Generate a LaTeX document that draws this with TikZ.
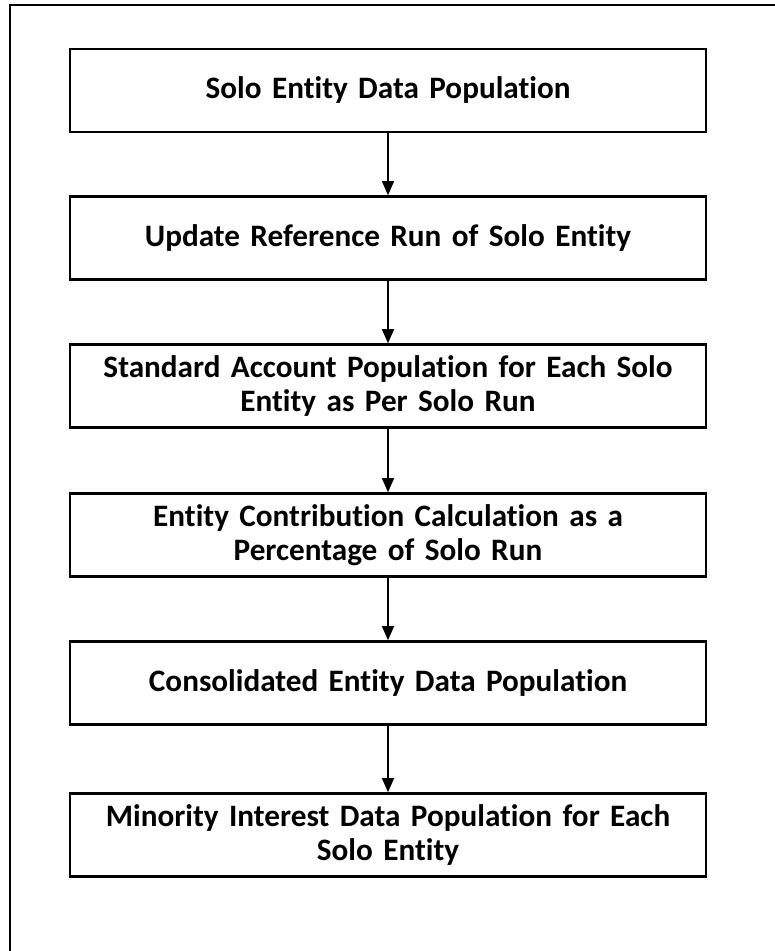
\documentclass[tikz,border=0pt]{standalone}
\usepackage{fontspec}
\setmainfont{Carlito}[Ligatures=NoCommon, WordSpace=0.8]
\usetikzlibrary{arrows.meta}
\begin{document}
\begin{tikzpicture}[x=1pt,y=1pt,
  stepbox/.style={draw=black, line width=2.6pt, minimum width=636pt, minimum height=83pt,
    align=center, font=\fontsize{31.2}{34}\selectfont\bfseries, inner sep=0pt, text width=634pt},
  flow/.style={draw=black, line width=1.3pt, -{Triangle[length=14pt,width=12pt]}}]
\useasboundingbox (0,0) rectangle (775,-951);
\draw[line width=2.8pt] (10,-955) -- (10,-5) -- (780,-5);
\node[stepbox] (b1) at (388,-90.5) {Solo Entity Data Population};
\node[stepbox] (b2) at (388,-238) {Update Reference Run of Solo Entity};
\node[stepbox] (b3) at (388,-386) {Standard Account Population for Each Solo\\Entity as Per Solo Run};
\node[stepbox] (b4) at (388,-535) {Entity Contribution Calculation as a\\Percentage of Solo Run};
\node[stepbox] (b5) at (388,-683) {Consolidated Entity Data Population};
\node[stepbox] (b6) at (388,-835) {Minority Interest Data Population for Each\\Solo Entity};
\draw[flow] (b1.south) -- (b2.north);
\draw[flow] (b2.south) -- (b3.north);
\draw[flow] (b3.south) -- (b4.north);
\draw[flow] (b4.south) -- (b5.north);
\draw[flow] (b5.south) -- (b6.north);
\end{tikzpicture}
\end{document}
